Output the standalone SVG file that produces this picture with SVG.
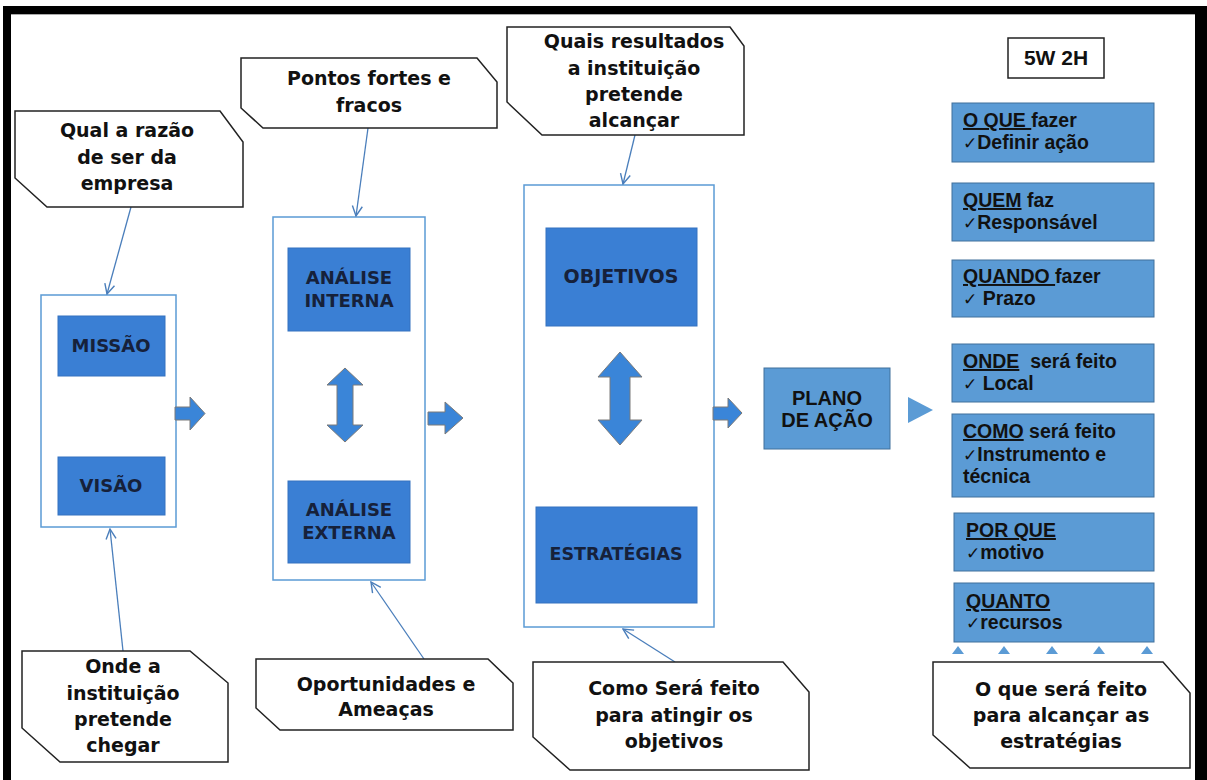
<svg xmlns="http://www.w3.org/2000/svg" width="1207" height="780" viewBox="0 0 1207 780">
<defs>
<style>
.frame{fill:#000}
.call{fill:#fff;stroke:#222;stroke-width:1.5}
.ct{font-family:"DejaVu Sans",Verdana,sans-serif;font-weight:bold;font-size:19px;fill:#111;text-anchor:middle}
.cont{fill:#fff;stroke:#5B9BD5;stroke-width:1.5}
.dbox{fill:#3A7FD4;stroke:#3572C0;stroke-width:1}
.dt{font-family:"DejaVu Sans",Verdana,sans-serif;font-weight:bold;font-size:18px;fill:#16213a;text-anchor:middle}
.lbox{fill:#5B9BD5;stroke:#41719C;stroke-width:1}
.lt{font-family:"Liberation Sans",Arial,sans-serif;font-weight:bold;font-size:19.5px;fill:#111}
.ck{font-family:"DejaVu Sans",sans-serif;font-weight:normal;font-size:17px}
.barrow{fill:#3A85D8;stroke:#7a7a7a;stroke-width:1}
.conn{fill:none;stroke:#4A7EBB;stroke-width:1.3}
.tri{fill:#5B9BD5}
</style>
<marker id="oa" viewBox="0 0 12 12" refX="11" refY="6" markerWidth="12" markerHeight="12" markerUnits="userSpaceOnUse" orient="auto">
<path d="M1,1 L11,6 L1,11" fill="none" stroke="#4A7EBB" stroke-width="1.4"/>
</marker>
</defs>
<rect width="1207" height="780" fill="#fff"/>
<g id="frame">
<rect class="frame" x="3" y="6" width="1204" height="8"/>
<rect class="frame" x="3" y="6" width="8" height="774"/>
<rect class="frame" x="1195" y="6" width="12" height="774"/>
<line x1="11" y1="14.5" x2="1195" y2="14.5" stroke="#aaa" stroke-width="1"/>
</g>

<g id="containers">
<rect id="c-missao" class="cont" x="41" y="295" width="135" height="232"/>
<rect id="c-analise" class="cont" x="273" y="217" width="152" height="363"/>
<rect id="c-objetivos" class="cont" x="524" y="185" width="190" height="442"/>
</g>

<g id="connectors">
<line class="conn" x1="131" y1="207" x2="107" y2="294" marker-end="url(#oa)"/>
<line class="conn" x1="368" y1="128" x2="356" y2="216" marker-end="url(#oa)"/>
<line class="conn" x1="635" y1="135" x2="623" y2="184" marker-end="url(#oa)"/>
<line class="conn" x1="123" y1="651" x2="110" y2="529" marker-end="url(#oa)"/>
<line class="conn" x1="424" y1="659" x2="371" y2="582" marker-end="url(#oa)"/>
<line class="conn" x1="675" y1="662" x2="623" y2="629" marker-end="url(#oa)"/>
<path class="barrow" d="M175,407 H190 V397 L205,413.5 L190,430 V420 H175 Z"/>
<path class="barrow" d="M428,412 H445 V402 L463,418 L445,434 V425 H428 Z"/>
<path class="barrow" d="M713,407 H728 V398 L742,413 L728,428 V420 H713 Z"/>
<path class="barrow" d="M345,368 L363,385 H353 V425 H363 L345,442 L327,425 H337 V385 H327 Z"/>
<path class="barrow" d="M620,352 L642,377 H630 V420 H642 L620,445 L598,420 H610 V377 H598 Z"/>
<path class="tri" d="M908,397 L933,410 L908,423 Z"/>
<path class="tri" d="M952,654 L958,646 L964,654 Z"/>
<path class="tri" d="M998,654 L1004,646 L1010,654 Z"/>
<path class="tri" d="M1046,654 L1052,646 L1058,654 Z"/>
<path class="tri" d="M1093,654 L1099,646 L1105,654 Z"/>
<path class="tri" d="M1141,654 L1147,646 L1153,654 Z"/>
</g>

<g id="n-qual">
<polygon class="call" points="15,111 220,111 243,142 243,207 47,207 15,178"/>
<text class="ct" x="127" y="137">Qual a razão</text>
<text class="ct" x="127" y="164">de ser da</text>
<text class="ct" x="127" y="190">empresa</text>
</g>
<g id="n-pontos">
<polygon class="call" points="241,58 477,58 497,82 497,128 263,128 241,108"/>
<text class="ct" x="369" y="85">Pontos fortes e</text>
<text class="ct" x="369" y="112">fracos</text>
</g>
<g id="n-quais">
<polygon class="call" points="507,27 730,27 744,46 744,135 542,135 507,102"/>
<text class="ct" x="634" y="48">Quais resultados</text>
<text class="ct" x="634" y="75">a instituição</text>
<text class="ct" x="634" y="101">pretende</text>
<text class="ct" x="634" y="127">alcançar</text>
</g>
<g id="n-onde">
<polygon class="call" points="22,651 190,651 228,683 228,762 60,762 22,728"/>
<text class="ct" x="123" y="673">Onde a</text>
<text class="ct" x="123" y="700">instituição</text>
<text class="ct" x="123" y="726">pretende</text>
<text class="ct" x="123" y="752">chegar</text>
</g>
<g id="n-oport">
<polygon class="call" points="256,659 488,659 513,683 513,730 280,730 256,708"/>
<text class="ct" x="386" y="691">Oportunidades e</text>
<text class="ct" x="386" y="716">Ameaças</text>
</g>
<g id="n-como">
<polygon class="call" points="533,662 783,662 809,692 809,770 570,770 533,737"/>
<text class="ct" x="674" y="695">Como Será feito</text>
<text class="ct" x="674" y="722">para atingir os</text>
<text class="ct" x="674" y="748">objetivos</text>
</g>
<g id="n-oque-call">
<polygon class="call" points="933,662 1163,662 1190,693 1190,768 970,768 933,735"/>
<text class="ct" x="1061" y="696">O que será feito</text>
<text class="ct" x="1061" y="722">para alcançar as</text>
<text class="ct" x="1061" y="748">estratégias</text>
</g>

<g id="n-missao">
<rect class="dbox" x="58" y="316" width="107" height="60"/>
<text class="dt" x="111" y="352">MISSÃO</text>
</g>
<g id="n-visao">
<rect class="dbox" x="58" y="457" width="107" height="58"/>
<text class="dt" x="111" y="492">VISÃO</text>
</g>
<g id="n-interna">
<rect class="dbox" x="288" y="248" width="122" height="83"/>
<text class="dt" x="349" y="284">ANÁLISE</text>
<text class="dt" x="349" y="307">INTERNA</text>
</g>
<g id="n-externa">
<rect class="dbox" x="288" y="481" width="122" height="82"/>
<text class="dt" x="349" y="516">ANÁLISE</text>
<text class="dt" x="349" y="539">EXTERNA</text>
</g>
<g id="n-objetivos">
<rect class="dbox" x="546" y="228" width="151" height="98"/>
<text class="dt" x="621" y="283" style="font-size:19px">OBJETIVOS</text>
</g>
<g id="n-estrategias">
<rect class="dbox" x="536" y="507" width="161" height="96"/>
<text class="dt" x="616" y="560" style="font-size:17.5px">ESTRATÉGIAS</text>
</g>
<g id="n-plano">
<rect class="lbox" x="764" y="368" width="126" height="81"/>
<text class="lt" x="827" y="405" text-anchor="middle" style="font-size:20px">PLANO</text>
<text class="lt" x="827" y="427" text-anchor="middle" style="font-size:20px">DE AÇÃO</text>
</g>

<g id="n-5w2h">
<rect x="1008" y="38" width="96" height="40" fill="#fff" stroke="#222" stroke-width="1.5"/>
<text class="lt" x="1056" y="65" text-anchor="middle" style="font-size:21px">5W 2H</text>
</g>
<g id="n-oque">
<rect class="lbox" x="952" y="103" width="202" height="59"/>
<text class="lt" x="963" y="127"><tspan text-decoration="underline">O QUE </tspan>fazer</text>
<text class="lt" x="963" y="149"><tspan class="ck">✓</tspan>Definir ação</text>
</g>
<g id="n-quem">
<rect class="lbox" x="952" y="183" width="202" height="58"/>
<text class="lt" x="963" y="207"><tspan text-decoration="underline">QUEM</tspan> faz</text>
<text class="lt" x="963" y="229"><tspan class="ck">✓</tspan>Responsável</text>
</g>
<g id="n-quando">
<rect class="lbox" x="952" y="260" width="202" height="57"/>
<text class="lt" x="963" y="283"><tspan text-decoration="underline">QUANDO </tspan>fazer</text>
<text class="lt" x="963" y="305"><tspan class="ck">✓</tspan> Prazo</text>
</g>
<g id="n-onde-box">
<rect class="lbox" x="952" y="344" width="202" height="58"/>
<text class="lt" x="963" y="368" xml:space="preserve"><tspan text-decoration="underline">ONDE</tspan>  será feito</text>
<text class="lt" x="963" y="390"><tspan class="ck">✓</tspan> Local</text>
</g>
<g id="n-como-box">
<rect class="lbox" x="952" y="414" width="202" height="83"/>
<text class="lt" x="963" y="438"><tspan text-decoration="underline">COMO</tspan> será feito</text>
<text class="lt" x="963" y="461"><tspan class="ck">✓</tspan>Instrumento e</text>
<text class="lt" x="963" y="483">técnica</text>
</g>
<g id="n-porque">
<rect class="lbox" x="954" y="513" width="200" height="58"/>
<text class="lt" x="966" y="537" text-decoration="underline">POR QUE</text>
<text class="lt" x="966" y="559"><tspan class="ck">✓</tspan>motivo</text>
</g>
<g id="n-quanto">
<rect class="lbox" x="954" y="583" width="200" height="59"/>
<text class="lt" x="966" y="608" text-decoration="underline">QUANTO</text>
<text class="lt" x="966" y="629"><tspan class="ck">✓</tspan>recursos</text>
</g>
</svg>
